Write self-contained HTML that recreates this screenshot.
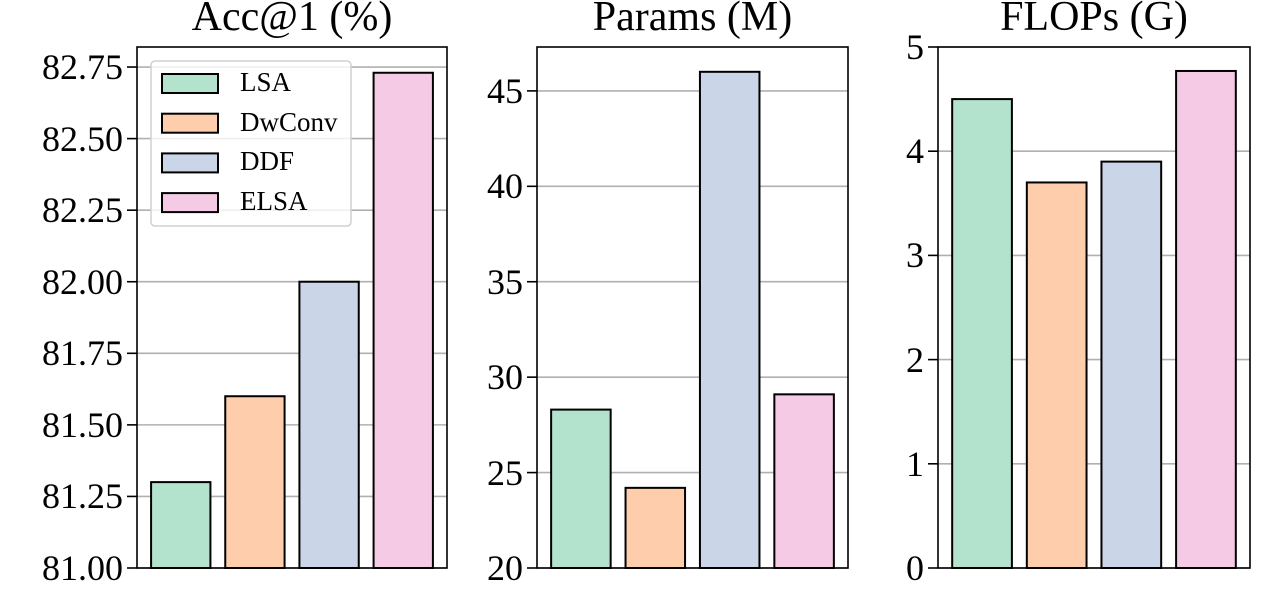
<!DOCTYPE html>
<html><head><meta charset="utf-8"><style>
body{margin:0;background:#fff;position:relative;width:1280px;height:600px;overflow:hidden}
svg{display:block;position:absolute;left:0;top:0}
.lbl{position:absolute;font-family:"Liberation Serif","Times New Roman","DejaVu Serif",serif;line-height:1;white-space:nowrap;color:#000}
.tick{font-size:36px;text-align:right;width:120px}
.title{font-size:42px;text-align:center;width:400px}
.leg{font-size:27px}
</style></head><body>
<svg id="chart" width="1280" height="600"></svg>
<script>
const categories = ["LSA","DwConv","DDF","ELSA"];
const colors = ["#b3e2cd","#fdcdac","#cbd5e8","#f4cae4"];
const titles = ["Acc@1 (%)","Params (M)","FLOPs (G)"];
const accValues = [81.30, 81.60, 82.00, 82.73];
const paramValues = [28.3, 24.2, 46.0, 29.1];
const flopValues = [4.5, 3.7, 3.9, 4.77];
const accTicks = ["81.00","81.25","81.50","81.75","82.00","82.25","82.50","82.75"];
const paramTicks = ["20","25","30","35","40","45"];
const flopTicks = ["0","1","2","3","4","5"];
const panels = [
 {name:"acc", left:137, right:447, ymin:81.0, ymax:82.82, vals:accValues, ticks:accTicks},
 {name:"params", left:537, right:848, ymin:20, ymax:47.3, vals:paramValues, ticks:paramTicks},
 {name:"flops", left:938, right:1250, ymin:0, ymax:5.0, vals:flopValues, ticks:flopTicks}
];
const TOP=47, BOT=568;
const NS="http://www.w3.org/2000/svg";
const svg=document.getElementById('chart');
function mk(tag,attrs,parent){const e=document.createElementNS(NS,tag);for(const k in attrs)e.setAttribute(k,attrs[k]);(parent||svg).appendChild(e);return e;}
function label(str,cls,left,top){
  const d=document.createElement('div');
  d.className='lbl '+cls;
  d.style.left=left+'px';d.style.top=top+'px';
  d.textContent=str;
  document.body.appendChild(d);
  return d;
}
panels.forEach((p,pi)=>{
  const g=mk('g',{});
  
  
  const y=v=>BOT-(v-p.ymin)/(p.ymax-p.ymin)*(BOT-TOP);
  const x0=-0.59,x1=3.59;
  const x=v=>p.left+(v-x0)/(x1-x0)*(p.right-p.left);
  p.ticks.forEach(t=>{
    const yy=y(parseFloat(t));
    const gl=mk('line',{x1:p.left,x2:p.right,y1:yy,y2:yy,stroke:"#b0b0b0","stroke-width":1.6},g);
    
    
    mk('line',{x1:p.left-10,x2:p.left,y1:yy,y2:yy,stroke:"#000","stroke-width":1.6},g);
    const tl=label(t,'tick',p.left-14-120,yy-18);
    
    
  });
  p.vals.forEach((v,i)=>{
    const bx=x(i-0.4),bw=x(i+0.4)-x(i-0.4),by=y(v);
    const r=mk('rect',{x:bx,y:by,width:bw,height:BOT-by,fill:colors[i],stroke:"#000","stroke-width":2},g);
    
    
  });
  const fr=mk('rect',{x:p.left,y:TOP,width:p.right-p.left,height:BOT-TOP,fill:"none",stroke:"#000","stroke-width":1.6},g);
  
  
  const tt=label(titles[pi],'title',(p.left+p.right)/2-200,-4);
  
  
});
const lg=mk('g',{});


mk('rect',{x:151,y:61,width:200,height:165,rx:4,fill:"rgba(255,255,255,0.8)",stroke:"#d0d0d0","stroke-width":1.5},lg);
categories.forEach((c,i)=>{
  const cy=83+i*39.7;
  const e=mk('g',{},lg);
  
  
  mk('rect',{x:162,y:cy-9,width:56,height:19,fill:colors[i],stroke:"#000","stroke-width":2},e);
  const t=label(c,'leg',240,cy-14);
  
  
});
</script>
</body></html>
